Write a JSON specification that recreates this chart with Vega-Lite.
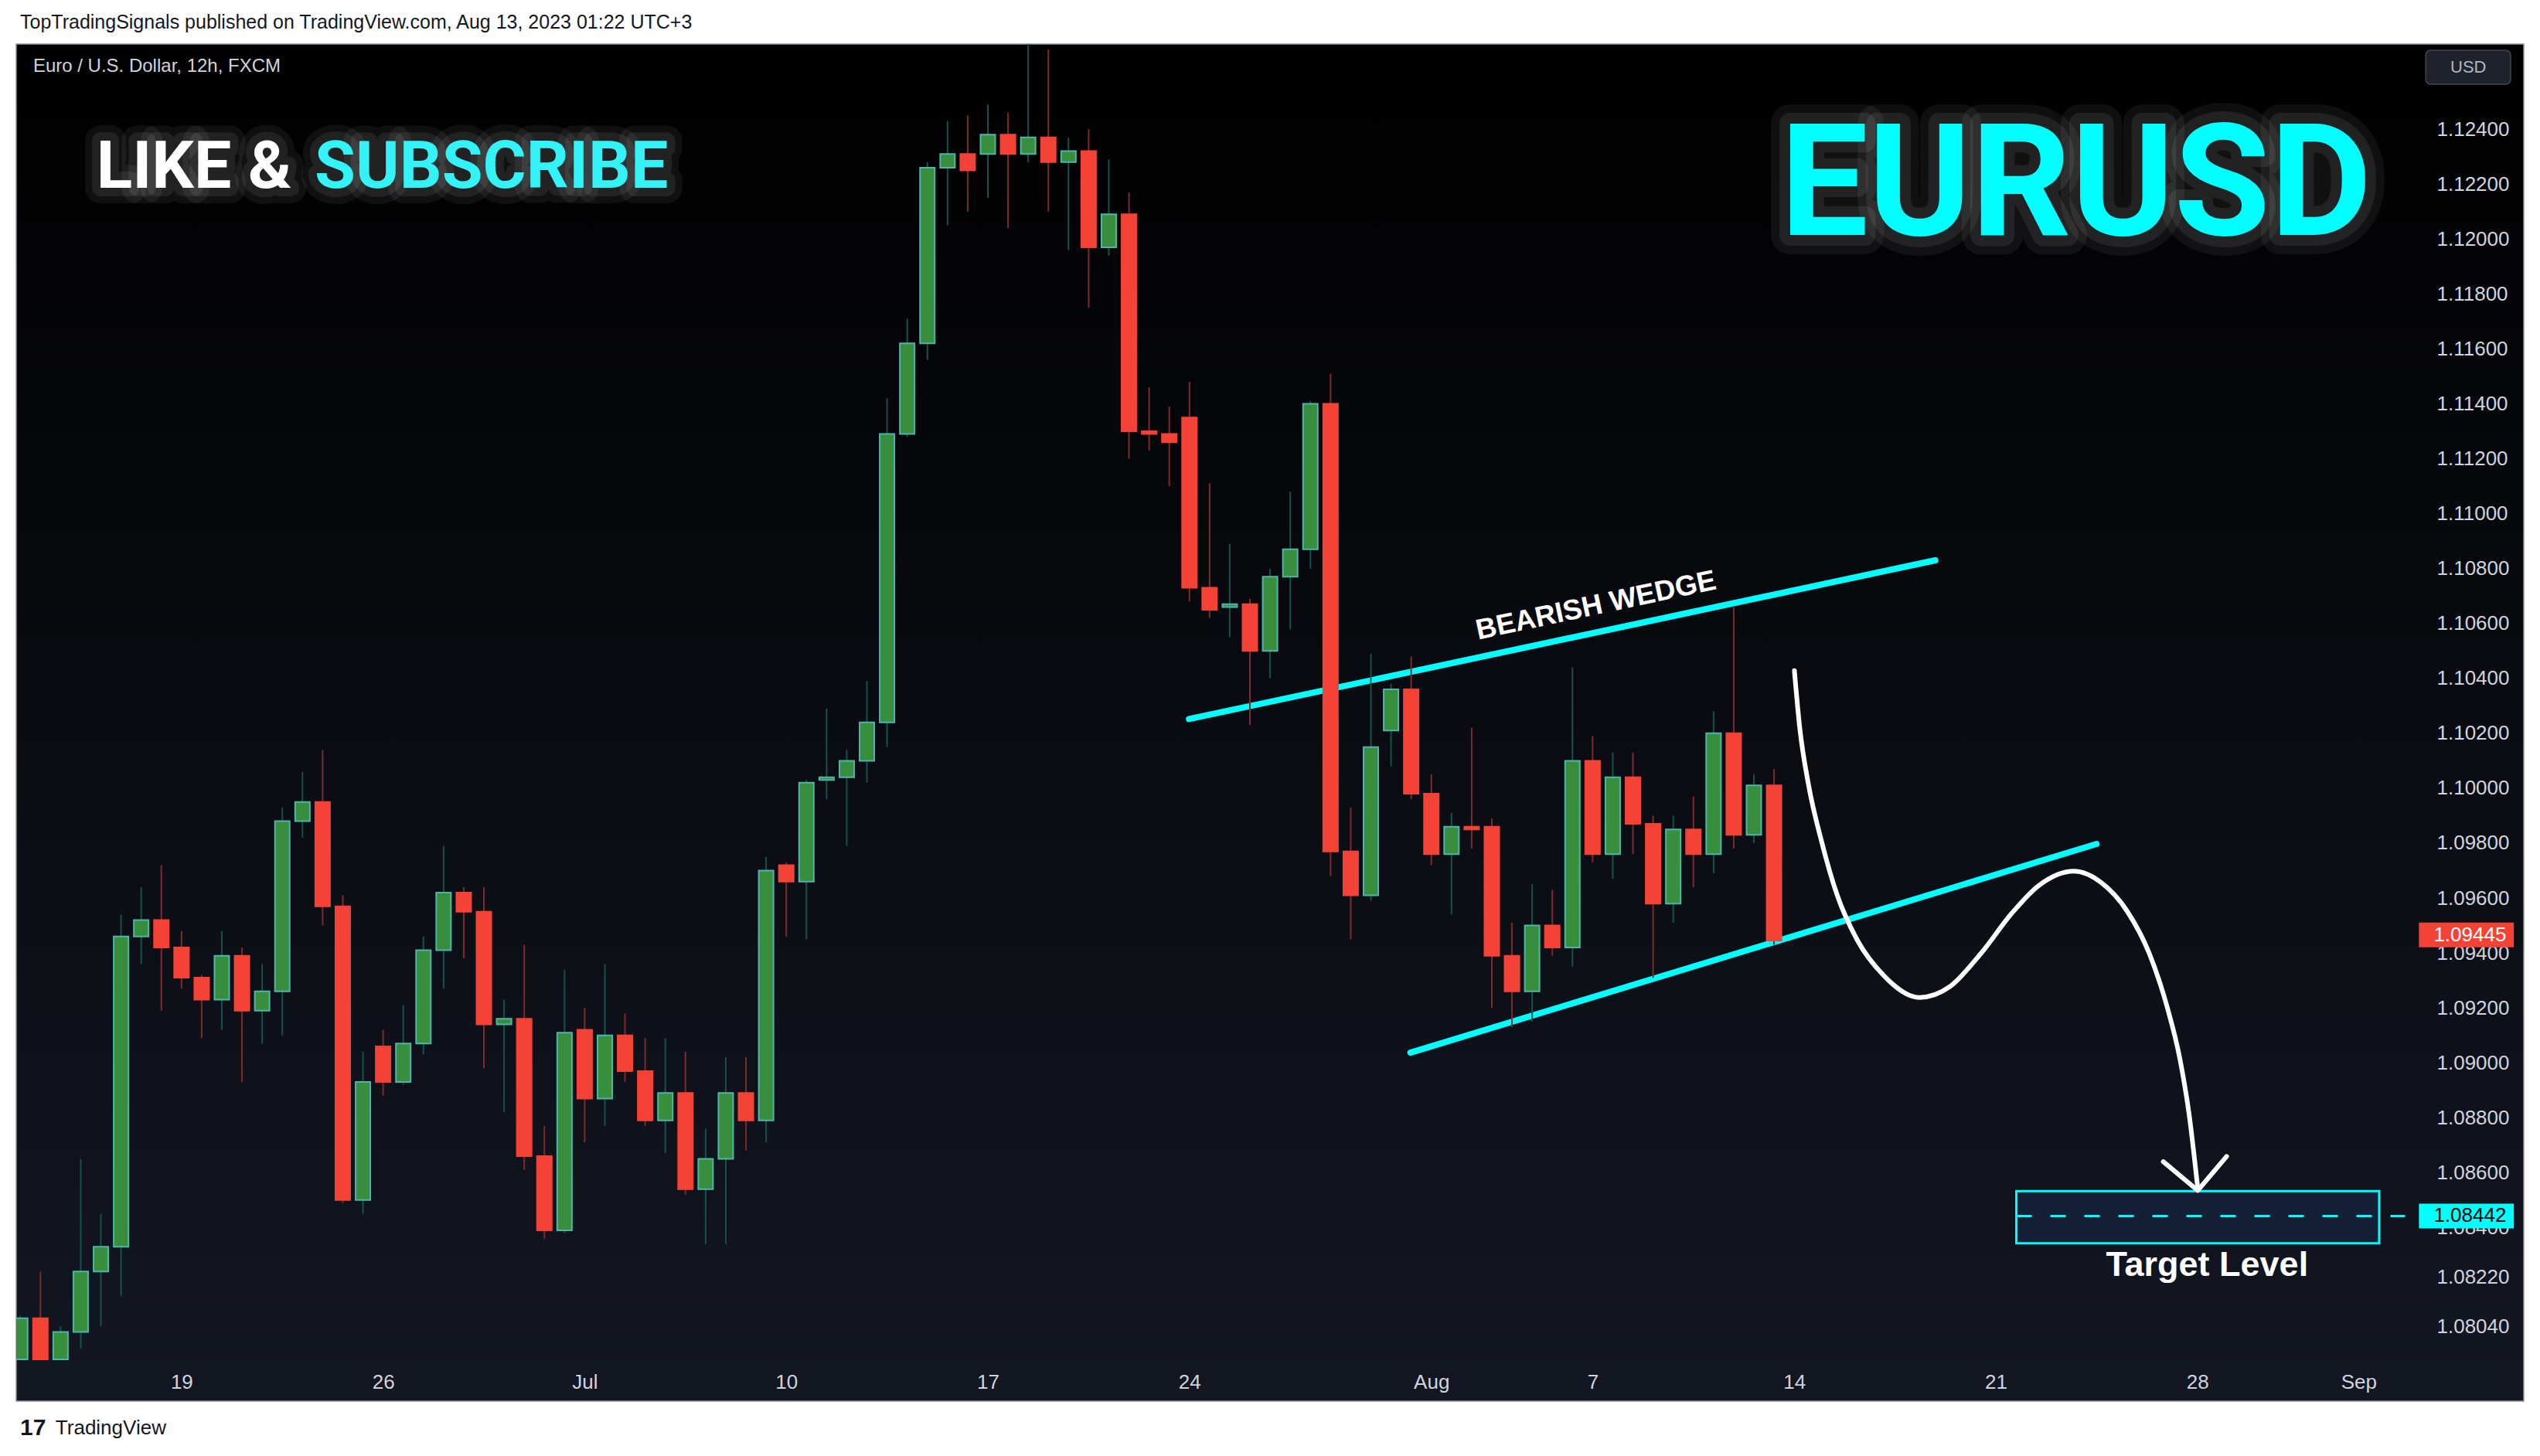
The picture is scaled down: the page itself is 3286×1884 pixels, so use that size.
{
  "$schema": "https://vega.github.io/schema/vega-lite/v6.json",
  "width": 3244,
  "height": 1756,
  "autosize": {"type": "none"},
  "padding": {"left": 21, "top": 57, "right": 21, "bottom": 71},
  "background": "#ffffff",
  "config": {
    "view": {
      "stroke": "#8f929b",
      "strokeWidth": 1.5,
      "fill": {"gradient": "linear", "x1": 0, "y1": 0, "x2": 0, "y2": 1, "stops": [{"offset": 0, "color": "#000000"}, {"offset": 1, "color": "#131722"}]}
    },
    "font": "Liberation Sans"
  },
  "datasets": {
    "candles": [
      {"t":-8,"o":1.0792,"h":1.0808,"l":1.0792,"c":1.0807},
      {"t":-7,"o":1.0807,"h":1.0824,"l":1.0792,"c":1.0792},
      {"t":-6,"o":1.0792,"h":1.0804,"l":1.0792,"c":1.0802},
      {"t":-5,"o":1.0802,"h":1.0865,"l":1.0796,"c":1.0824},
      {"t":-4,"o":1.0824,"h":1.0845,"l":1.0804,"c":1.0833},
      {"t":-3,"o":1.0833,"h":1.0954,"l":1.0815,"c":1.0946},
      {"t":-2,"o":1.0946,"h":1.0964,"l":1.0936,"c":1.0952},
      {"t":-1,"o":1.0952,"h":1.0972,"l":1.0919,"c":1.0942},
      {"t":0,"o":1.0942,"h":1.0948,"l":1.0927,"c":1.0931},
      {"t":1,"o":1.0931,"h":1.0932,"l":1.0909,"c":1.0923},
      {"t":2,"o":1.0923,"h":1.0948,"l":1.0912,"c":1.0939},
      {"t":3,"o":1.0939,"h":1.0942,"l":1.0893,"c":1.0919},
      {"t":4,"o":1.0919,"h":1.0936,"l":1.0907,"c":1.0926},
      {"t":5,"o":1.0926,"h":1.0993,"l":1.0910,"c":1.0988},
      {"t":6,"o":1.0988,"h":1.1006,"l":1.0982,"c":1.0995},
      {"t":7,"o":1.0995,"h":1.1014,"l":1.0950,"c":1.0957},
      {"t":8,"o":1.0957,"h":1.0961,"l":1.0849,"c":1.0850},
      {"t":9,"o":1.0850,"h":1.0904,"l":1.0845,"c":1.0893},
      {"t":10,"o":1.0906,"h":1.0912,"l":1.0888,"c":1.0893},
      {"t":11,"o":1.0893,"h":1.0921,"l":1.0892,"c":1.0907},
      {"t":12,"o":1.0907,"h":1.0946,"l":1.0903,"c":1.0941},
      {"t":13,"o":1.0941,"h":1.0979,"l":1.0927,"c":1.0962},
      {"t":14,"o":1.0962,"h":1.0964,"l":1.0938,"c":1.0955},
      {"t":15,"o":1.0955,"h":1.0964,"l":1.0898,"c":1.0914},
      {"t":16,"o":1.0914,"h":1.0923,"l":1.0882,"c":1.0916},
      {"t":17,"o":1.0916,"h":1.0943,"l":1.0861,"c":1.0866},
      {"t":18,"o":1.0866,"h":1.0877,"l":1.0836,"c":1.0839},
      {"t":19,"o":1.0839,"h":1.0934,"l":1.0838,"c":1.0911},
      {"t":20,"o":1.0912,"h":1.0920,"l":1.0871,"c":1.0887},
      {"t":21,"o":1.0887,"h":1.0936,"l":1.0877,"c":1.0910},
      {"t":22,"o":1.0910,"h":1.0918,"l":1.0893,"c":1.0897},
      {"t":23,"o":1.0897,"h":1.0909,"l":1.0877,"c":1.0879},
      {"t":24,"o":1.0879,"h":1.0909,"l":1.0867,"c":1.0889},
      {"t":25,"o":1.0889,"h":1.0904,"l":1.0852,"c":1.0854},
      {"t":26,"o":1.0854,"h":1.0876,"l":1.0834,"c":1.0865},
      {"t":27,"o":1.0865,"h":1.0902,"l":1.0834,"c":1.0889},
      {"t":28,"o":1.0889,"h":1.0902,"l":1.0868,"c":1.0879},
      {"t":29,"o":1.0879,"h":1.0975,"l":1.0871,"c":1.0970},
      {"t":30,"o":1.0972,"h":1.0973,"l":1.0946,"c":1.0966},
      {"t":31,"o":1.0966,"h":1.1003,"l":1.0945,"c":1.1002},
      {"t":32,"o":1.1003,"h":1.1029,"l":1.0996,"c":1.1004},
      {"t":33,"o":1.1004,"h":1.1014,"l":1.0979,"c":1.1010},
      {"t":34,"o":1.1010,"h":1.1039,"l":1.1002,"c":1.1024},
      {"t":35,"o":1.1024,"h":1.1142,"l":1.1015,"c":1.1129},
      {"t":36,"o":1.1129,"h":1.1171,"l":1.1128,"c":1.1162},
      {"t":37,"o":1.1162,"h":1.1228,"l":1.1156,"c":1.1226},
      {"t":38,"o":1.1226,"h":1.1243,"l":1.1205,"c":1.1231},
      {"t":39,"o":1.1231,"h":1.1245,"l":1.1210,"c":1.1225},
      {"t":40,"o":1.1231,"h":1.1249,"l":1.1215,"c":1.1238},
      {"t":41,"o":1.1238,"h":1.1246,"l":1.1204,"c":1.1231},
      {"t":42,"o":1.1231,"h":1.1276,"l":1.1228,"c":1.1237},
      {"t":43,"o":1.1237,"h":1.1269,"l":1.1210,"c":1.1228},
      {"t":44,"o":1.1228,"h":1.1237,"l":1.1196,"c":1.1232},
      {"t":45,"o":1.1232,"h":1.1240,"l":1.1175,"c":1.1197},
      {"t":46,"o":1.1197,"h":1.1229,"l":1.1194,"c":1.1209},
      {"t":47,"o":1.1209,"h":1.1217,"l":1.1120,"c":1.1130},
      {"t":48,"o":1.1130,"h":1.1146,"l":1.1123,"c":1.1129},
      {"t":49,"o":1.1129,"h":1.1139,"l":1.1110,"c":1.1126},
      {"t":50,"o":1.1135,"h":1.1148,"l":1.1068,"c":1.1073},
      {"t":51,"o":1.1073,"h":1.1111,"l":1.1062,"c":1.1065},
      {"t":52,"o":1.1066,"h":1.1089,"l":1.1055,"c":1.1067},
      {"t":53,"o":1.1067,"h":1.1069,"l":1.1023,"c":1.1050},
      {"t":54,"o":1.1050,"h":1.1080,"l":1.1040,"c":1.1077},
      {"t":55,"o":1.1077,"h":1.1108,"l":1.1058,"c":1.1087},
      {"t":56,"o":1.1087,"h":1.1141,"l":1.1080,"c":1.1140},
      {"t":57,"o":1.1140,"h":1.1151,"l":1.0968,"c":1.0977},
      {"t":58,"o":1.0977,"h":1.0993,"l":1.0945,"c":1.0961},
      {"t":59,"o":1.0961,"h":1.1049,"l":1.0959,"c":1.1015},
      {"t":60,"o":1.1021,"h":1.1038,"l":1.1008,"c":1.1036},
      {"t":61,"o":1.1036,"h":1.1048,"l":1.0996,"c":1.0998},
      {"t":62,"o":1.0998,"h":1.1005,"l":1.0972,"c":1.0976},
      {"t":63,"o":1.0976,"h":1.0991,"l":1.0954,"c":1.0986},
      {"t":64,"o":1.0986,"h":1.1022,"l":1.0978,"c":1.0985},
      {"t":65,"o":1.0986,"h":1.0989,"l":1.0920,"c":1.0939},
      {"t":66,"o":1.0939,"h":1.0951,"l":1.0913,"c":1.0926},
      {"t":67,"o":1.0926,"h":1.0965,"l":1.0915,"c":1.0950},
      {"t":68,"o":1.0950,"h":1.0963,"l":1.0939,"c":1.0942},
      {"t":69,"o":1.0942,"h":1.1044,"l":1.0935,"c":1.1010},
      {"t":70,"o":1.1010,"h":1.1019,"l":1.0973,"c":1.0976},
      {"t":71,"o":1.0976,"h":1.1013,"l":1.0967,"c":1.1004},
      {"t":72,"o":1.1004,"h":1.1013,"l":1.0976,"c":1.0987},
      {"t":73,"o":1.0987,"h":1.0990,"l":1.0931,"c":1.0958},
      {"t":74,"o":1.0958,"h":1.0990,"l":1.0951,"c":1.0985},
      {"t":75,"o":1.0985,"h":1.0997,"l":1.0964,"c":1.0976},
      {"t":76,"o":1.0976,"h":1.1028,"l":1.0969,"c":1.1020},
      {"t":77,"o":1.1020,"h":1.1066,"l":1.0978,"c":1.0983},
      {"t":78,"o":1.0983,"h":1.1005,"l":1.0980,"c":1.1001},
      {"t":79,"o":1.1001,"h":1.1007,"l":1.0943,"c":1.09445}
    ],
    "wedge": [
      {"line": "upper", "t": 49.98, "p": 1.10252},
      {"line": "upper", "t": 87.0, "p": 1.1083},
      {"line": "lower", "t": 60.96, "p": 1.09037},
      {"line": "lower", "t": 95.0, "p": 1.09797}
    ],
    "curve": [
      {"t": 80.01, "p": 1.10428},
      {"t": 80.27, "p": 1.10223},
      {"t": 80.71, "p": 1.10013},
      {"t": 81.37, "p": 1.09803},
      {"t": 82.14, "p": 1.09609},
      {"t": 83.12, "p": 1.09448},
      {"t": 84.44, "p": 1.09318},
      {"t": 86.2, "p": 1.09238},
      {"t": 87.73, "p": 1.09278},
      {"t": 89.27, "p": 1.09399},
      {"t": 90.8, "p": 1.09545},
      {"t": 92.12, "p": 1.09645},
      {"t": 93.88, "p": 1.09698},
      {"t": 95.2, "p": 1.09658},
      {"t": 96.51, "p": 1.09553},
      {"t": 97.61, "p": 1.09399},
      {"t": 98.49, "p": 1.09206},
      {"t": 99.14, "p": 1.09012},
      {"t": 99.58, "p": 1.08818},
      {"t": 100.02, "p": 1.08543}
    ],
    "arrowhead": [
      {"t": 98.31, "p": 1.0864},
      {"t": 100.02, "p": 1.08535},
      {"t": 101.45, "p": 1.08659}
    ]
  },
  "layer": [
    {
      "data": {"name": "wedge"},
      "mark": {"type": "line", "color": "#00ffff", "strokeWidth": 8, "strokeCap": "round"},
      "encoding": {
        "x": {"field": "t", "type": "quantitative", "scale": {"domain": [-8.008, 116.0], "nice": false, "zero": false},
          "axis": {"title": null, "values": [0, 10, 20, 30, 40, 50, 62, 70, 80, 90, 100, 108],
            "labelExpr": "['19','26','Jul','10','17','24','Aug','7','14','21','28','Sep'][indexof([0,10,20,30,40,50,62,70,80,90,100,108], datum.value)]",
            "orient": "bottom", "offset": -53, "domain": false, "ticks": false, "tickSize": 0, "grid": false,
            "labelPadding": 28, "labelBaseline": "middle", "labelFlush": false, "labelOverlap": false,
            "labelColor": "#d1d4dc", "labelFont": "Liberation Sans", "labelFontSize": 26}},
        "y": {"field": "p", "type": "quantitative", "scale": {"domain": [1.0776786, 1.1271016], "nice": false, "zero": false},
          "axis": {"title": null, "orient": "right", "offset": -143,
            "values": [1.124, 1.122, 1.12, 1.118, 1.116, 1.114, 1.112, 1.11, 1.108, 1.106, 1.104, 1.102, 1.1, 1.098, 1.096, 1.094, 1.092, 1.09, 1.088, 1.086, 1.084, 1.0822, 1.0804],
            "format": ".5f", "domain": false, "ticks": false, "tickSize": 0, "grid": false,
            "labelPadding": 30, "labelAlign": "left", "labelBaseline": "middle", "labelOverlap": false, "labelFlush": false,
            "labelColor": "#d1d4dc", "labelFont": "Liberation Sans", "labelFontSize": 26}},
        "detail": {"field": "line"}
      }
    },
    {
      "data": {"name": "candles"},
      "mark": {"type": "rule", "strokeWidth": 2, "clip": true},
      "encoding": {
        "x": {"field": "t", "type": "quantitative", "scale": {"domain": [-8.008, 116.0], "nice": false, "zero": false}},
        "y": {"field": "l", "type": "quantitative", "scale": {"domain": [1.0776786, 1.1271016], "nice": false, "zero": false}},
        "y2": {"field": "h"},
        "color": {"condition": {"test": "datum.c >= datum.o", "value": "#15524e"}, "value": "#7d2b2c"}
      }
    },
    {
      "data": {"name": "candles"},
      "mark": {"type": "bar", "size": 19, "strokeWidth": 2, "clip": true},
      "encoding": {
        "x": {"field": "t", "type": "quantitative", "scale": {"domain": [-8.008, 116.0], "nice": false, "zero": false}},
        "y": {"field": "o", "type": "quantitative", "scale": {"domain": [1.0776786, 1.1271016], "nice": false, "zero": false}},
        "y2": {"field": "c"},
        "fill": {"condition": {"test": "datum.c >= datum.o", "value": "#388e3c"}, "value": "#f44336"},
        "stroke": {"condition": {"test": "datum.c >= datum.o", "value": "#4db6ac"}, "value": "#f44336"}
      }
    },
    {
      "data": {"values": [{}]},
      "mark": {"type": "rect", "fill": "#142036", "stroke": "#00ffff", "strokeWidth": 3},
      "encoding": {
        "x": {"datum": 91.02, "type": "quantitative", "scale": {"domain": [-8.008, 116.0], "nice": false, "zero": false}},
        "x2": {"datum": 109.02},
        "y": {"datum": 1.08343, "type": "quantitative", "scale": {"domain": [1.0776786, 1.1271016], "nice": false, "zero": false}},
        "y2": {"datum": 1.08533}
      }
    },
    {
      "data": {"values": [{}]},
      "mark": {"type": "rule", "color": "#00ffff", "strokeWidth": 3, "strokeDash": [20, 24]},
      "encoding": {
        "x": {"datum": 91.02, "type": "quantitative", "scale": {"domain": [-8.008, 116.0], "nice": false, "zero": false}},
        "x2": {"datum": 110.3},
        "y": {"datum": 1.08442, "type": "quantitative", "scale": {"domain": [1.0776786, 1.1271016], "nice": false, "zero": false}}
      }
    },
    {
      "data": {"name": "curve"},
      "mark": {"type": "line", "color": "#ffffff", "strokeWidth": 6, "strokeCap": "round", "interpolate": "monotone"},
      "encoding": {
        "x": {"field": "t", "type": "quantitative", "scale": {"domain": [-8.008, 116.0], "nice": false, "zero": false}},
        "y": {"field": "p", "type": "quantitative", "scale": {"domain": [1.0776786, 1.1271016], "nice": false, "zero": false}}
      }
    },
    {
      "data": {"name": "arrowhead"},
      "mark": {"type": "line", "color": "#ffffff", "strokeWidth": 6, "strokeCap": "round", "strokeJoin": "round"},
      "encoding": {
        "x": {"field": "t", "type": "quantitative", "scale": {"domain": [-8.008, 116.0], "nice": false, "zero": false}},
        "y": {"field": "p", "type": "quantitative", "scale": {"domain": [1.0776786, 1.1271016], "nice": false, "zero": false}}
      }
    },
    {
      "data": {"values": [{}]},
      "encoding": {
        "x": {"datum": 70.17, "type": "quantitative", "scale": {"domain": [-8.008, 116.0], "nice": false, "zero": false}},
        "y": {"datum": 1.10664, "type": "quantitative", "scale": {"domain": [1.0776786, 1.1271016], "nice": false, "zero": false}}
      },
      "mark": {"type": "text", "text": "BEARISH WEDGE", "angle": 348, "align": "center", "baseline": "middle", "font": "Liberation Sans", "fontWeight": "bold", "fontSize": 37, "color": "#ffffff"}
    },
    {
      "data": {"values": [{}]},
      "encoding": {
        "x": {"datum": 100.48, "type": "quantitative", "scale": {"domain": [-8.008, 116.0], "nice": false, "zero": false}},
        "y": {"datum": 1.08225, "type": "quantitative", "scale": {"domain": [1.0776786, 1.1271016], "nice": false, "zero": false}}
      },
      "mark": {"type": "text", "text": "Target Level", "align": "center", "baseline": "alphabetic", "font": "Liberation Sans", "fontWeight": "bold", "fontSize": 45, "color": "#ffffff"}
    },
    {
      "data": {"values": [{}]},
      "encoding": {
        "x": {"datum": -4.224, "type": "quantitative", "scale": {"domain": [-8.008, 116.0], "nice": false, "zero": false}},
        "y": {"datum": 1.12187, "type": "quantitative", "scale": {"domain": [1.0776786, 1.1271016], "nice": false, "zero": false}}
      },
      "layer": [
        {"mark": {"type": "text", "text": "LIKE &", "align": "left", "baseline": "alphabetic", "font": "Roboto", "fontWeight": "bold", "fontSize": 86, "fillOpacity": 0, "stroke": "#ffffff", "strokeOpacity": 0.06, "strokeWidth": 40, "strokeJoin": "round"}},
        {"mark": {"type": "text", "text": "LIKE &", "align": "left", "baseline": "alphabetic", "font": "Roboto", "fontWeight": "bold", "fontSize": 86, "fillOpacity": 0, "stroke": "#ffffff", "strokeOpacity": 0.08, "strokeWidth": 22, "strokeJoin": "round"}},
        {"mark": {"type": "text", "text": "LIKE &", "align": "left", "baseline": "alphabetic", "font": "Roboto", "fontWeight": "bold", "fontSize": 86, "fill": "#ffffff"}}
      ]
    },
    {
      "data": {"values": [{}]},
      "encoding": {
        "x": {"datum": 24.14, "type": "quantitative", "scale": {"domain": [-8.008, 116.0], "nice": false, "zero": false}},
        "y": {"datum": 1.12187, "type": "quantitative", "scale": {"domain": [1.0776786, 1.1271016], "nice": false, "zero": false}}
      },
      "layer": [
        {"mark": {"type": "text", "text": "SUBSCRIBE", "align": "right", "baseline": "alphabetic", "font": "Roboto", "fontWeight": "bold", "fontSize": 86, "fillOpacity": 0, "stroke": "#ffffff", "strokeOpacity": 0.06, "strokeWidth": 40, "strokeJoin": "round"}},
        {"mark": {"type": "text", "text": "SUBSCRIBE", "align": "right", "baseline": "alphabetic", "font": "Roboto", "fontWeight": "bold", "fontSize": 86, "fillOpacity": 0, "stroke": "#ffffff", "strokeOpacity": 0.08, "strokeWidth": 22, "strokeJoin": "round"}},
        {"mark": {"type": "text", "text": "SUBSCRIBE", "align": "right", "baseline": "alphabetic", "font": "Roboto", "fontWeight": "bold", "fontSize": 86, "fill": "#33f3f7"}}
      ]
    },
    {
      "data": {"values": [{}]},
      "encoding": {
        "x": {"datum": 93.98, "type": "quantitative", "scale": {"domain": [-8.008, 116.0], "nice": false, "zero": false}},
        "y": {"datum": 1.12015, "type": "quantitative", "scale": {"domain": [1.0776786, 1.1271016], "nice": false, "zero": false}}
      },
      "layer": [
        {"mark": {"type": "text", "text": "EURUSD", "align": "center", "baseline": "alphabetic", "font": "Roboto", "fontWeight": "bold", "fontSize": 202, "fillOpacity": 0, "stroke": "#ffffff", "strokeOpacity": 0.06, "strokeWidth": 50, "strokeJoin": "round"}},
        {"mark": {"type": "text", "text": "EURUSD", "align": "center", "baseline": "alphabetic", "font": "Roboto", "fontWeight": "bold", "fontSize": 202, "fillOpacity": 0, "stroke": "#ffffff", "strokeOpacity": 0.08, "strokeWidth": 28, "strokeJoin": "round"}},
        {"mark": {"type": "text", "text": "EURUSD", "align": "center", "baseline": "alphabetic", "font": "Roboto", "fontWeight": "bold", "fontSize": 202, "fill": "#00ffff"}}
      ]
    },
    {
      "data": {"values": [{}]},
      "encoding": {
        "x": {"datum": -7.36, "type": "quantitative", "scale": {"domain": [-8.008, 116.0], "nice": false, "zero": false}},
        "y": {"datum": 1.12629, "type": "quantitative", "scale": {"domain": [1.0776786, 1.1271016], "nice": false, "zero": false}}
      },
      "mark": {"type": "text", "text": "Euro / U.S. Dollar, 12h, FXCM", "align": "left", "baseline": "middle", "font": "Liberation Sans", "fontSize": 24, "color": "#d1d4dc"}
    },
    {
      "data": {"values": [{}]},
      "mark": {"type": "rect", "fill": "#1e222d", "stroke": "#434651", "strokeWidth": 1.5, "cornerRadius": 6},
      "encoding": {
        "x": {"datum": 111.33, "type": "quantitative", "scale": {"domain": [-8.008, 116.0], "nice": false, "zero": false}},
        "x2": {"datum": 115.54},
        "y": {"datum": 1.125638, "type": "quantitative", "scale": {"domain": [1.0776786, 1.1271016], "nice": false, "zero": false}},
        "y2": {"datum": 1.126876}
      }
    },
    {
      "data": {"values": [{}]},
      "encoding": {
        "x": {"datum": 113.44, "type": "quantitative", "scale": {"domain": [-8.008, 116.0], "nice": false, "zero": false}},
        "y": {"datum": 1.126257, "type": "quantitative", "scale": {"domain": [1.0776786, 1.1271016], "nice": false, "zero": false}}
      },
      "mark": {"type": "text", "text": "USD", "align": "center", "baseline": "middle", "font": "Liberation Sans", "fontSize": 22, "color": "#b2b5be"}
    },
    {
      "data": {"values": [{}]},
      "mark": {"type": "rect", "fill": "#f44336"},
      "encoding": {
        "x": {"datum": 110.99, "type": "quantitative", "scale": {"domain": [-8.008, 116.0], "nice": false, "zero": false}},
        "x2": {"datum": 115.7},
        "y": {"datum": 1.09421, "type": "quantitative", "scale": {"domain": [1.0776786, 1.1271016], "nice": false, "zero": false}},
        "y2": {"datum": 1.09511}
      }
    },
    {
      "data": {"values": [{}]},
      "encoding": {
        "x": {"datum": 111.72, "type": "quantitative", "scale": {"domain": [-8.008, 116.0], "nice": false, "zero": false}},
        "y": {"datum": 1.09466, "type": "quantitative", "scale": {"domain": [1.0776786, 1.1271016], "nice": false, "zero": false}}
      },
      "mark": {"type": "text", "text": "1.09445", "align": "left", "baseline": "middle", "font": "Liberation Sans", "fontSize": 26, "color": "#ffffff"}
    },
    {
      "data": {"values": [{}]},
      "mark": {"type": "rect", "fill": "#00ffff"},
      "encoding": {
        "x": {"datum": 110.99, "type": "quantitative", "scale": {"domain": [-8.008, 116.0], "nice": false, "zero": false}},
        "x2": {"datum": 115.7},
        "y": {"datum": 1.08397, "type": "quantitative", "scale": {"domain": [1.0776786, 1.1271016], "nice": false, "zero": false}},
        "y2": {"datum": 1.08487}
      }
    },
    {
      "data": {"values": [{}]},
      "encoding": {
        "x": {"datum": 111.72, "type": "quantitative", "scale": {"domain": [-8.008, 116.0], "nice": false, "zero": false}},
        "y": {"datum": 1.08442, "type": "quantitative", "scale": {"domain": [1.0776786, 1.1271016], "nice": false, "zero": false}}
      },
      "mark": {"type": "text", "text": "1.08442", "align": "left", "baseline": "middle", "font": "Liberation Sans", "fontSize": 26, "color": "#000000"}
    },
    {
      "data": {"values": [{}]},
      "encoding": {
        "x": {"datum": -8.008, "type": "quantitative", "scale": {"domain": [-8.008, 116.0], "nice": false, "zero": false}},
        "y": {"datum": 1.12789, "type": "quantitative", "scale": {"domain": [1.0776786, 1.1271016], "nice": false, "zero": false}}
      },
      "mark": {"type": "text", "text": "TopTradingSignals published on TradingView.com, Aug 13, 2023 01:22 UTC+3", "align": "left", "baseline": "middle", "font": "Liberation Sans", "fontSize": 25, "color": "#131722", "clip": false}
    },
    {
      "data": {"values": [{}]},
      "encoding": {
        "x": {"datum": -8.008, "type": "quantitative", "scale": {"domain": [-8.008, 116.0], "nice": false, "zero": false}},
        "y": {"datum": 1.076694, "type": "quantitative", "scale": {"domain": [1.0776786, 1.1271016], "nice": false, "zero": false}}
      },
      "mark": {"type": "text", "text": "17", "align": "left", "baseline": "middle", "font": "Liberation Sans", "fontWeight": "bold", "fontSize": 30, "color": "#131722", "clip": false}
    },
    {
      "data": {"values": [{}]},
      "encoding": {
        "x": {"datum": -6.25, "type": "quantitative", "scale": {"domain": [-8.008, 116.0], "nice": false, "zero": false}},
        "y": {"datum": 1.076694, "type": "quantitative", "scale": {"domain": [1.0776786, 1.1271016], "nice": false, "zero": false}}
      },
      "mark": {"type": "text", "text": "TradingView", "align": "left", "baseline": "middle", "font": "Liberation Sans", "fontSize": 26, "color": "#131722", "clip": false}
    }
  ]
}
